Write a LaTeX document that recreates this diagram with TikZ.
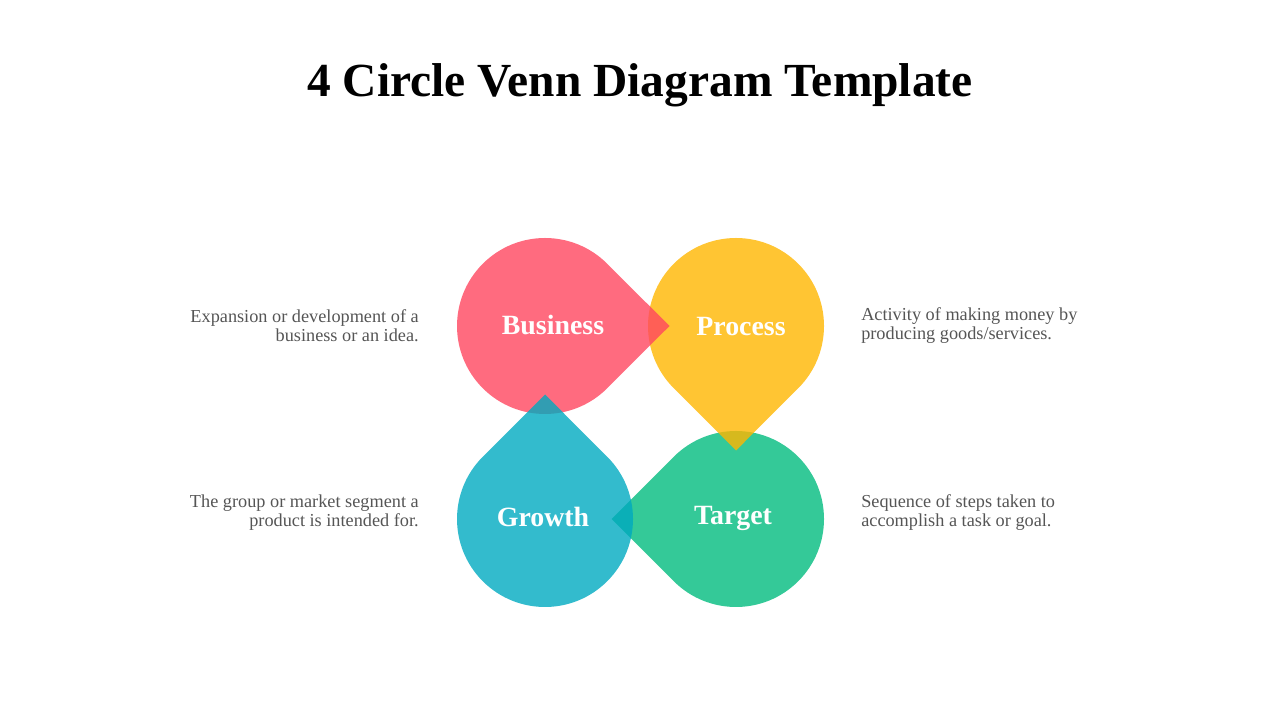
\documentclass[tikz,border=0pt]{standalone}
\usepackage{fontspec}
\setmainfont{Liberation Serif}
\usepackage{tikz}
\usetikzlibrary{calc,positioning}
\definecolor{vpink}{RGB}{255,70,95}
\definecolor{vyellow}{RGB}{255,182,0}
\definecolor{vteal}{RGB}{0,170,192}
\definecolor{vgreen}{RGB}{1,187,126}
\definecolor{desctext}{RGB}{85,85,85}
\tikzset{
  titletext/.style={font=\bfseries\fontsize{35.6}{42}\selectfont, text=black},
  drop/.style={fill=#1, fill opacity=0.8},
  lbl/.style={font=\bfseries\fontsize{20.9}{24}\selectfont, text=white},
  desc/.style={font=\fontsize{13.7}{14.3}\selectfont, text=desctext, inner sep=0pt},
}

\begin{document}
\begin{tikzpicture}[x=0.75pt, y=0.75pt]
  \useasboundingbox (0,0) rectangle (1280,720);

  % Title
  \node[titletext, anchor=base] (title) at (640,623) {4 Circle Venn Diagram Template};

  % Drops: centre x / centre y / tip direction / colour
  \foreach \cx/\cy/\dir/\col in {736/201/180/vgreen, 736/394/270/vyellow, 545/394/0/vpink, 545/201/90/vteal} {
    \fill[drop=\col] ($(\cx,\cy)+(\dir:124.5)$) -- ($(\cx,\cy)+(\dir+45:88)$)
      arc[start angle=\dir+45, delta angle=270, radius=88] -- cycle;
  }

  % Labels
  \node[lbl] (business) at (553,395) {Business};
  \node[lbl] (process) at (741,393) {Process};
  \node[lbl] (growth) at (543,203) {Growth};
  \node[lbl] (target) at (733,202) {Target};

  % Descriptions
  \node[desc, anchor=east, align=right] (businessdesc) at (419,394) {Expansion or development of a\\business or an idea.};
  \node[desc, anchor=east, align=right] (growthdesc) at (419,207) {The group or market segment a\\product is intended for.};
  \node[desc, anchor=west, align=left] (processdesc) at (861,394) {Activity of making money by\\producing goods/services.};
  \node[desc, anchor=west, align=left] (targetdesc) at (861,207) {Sequence of steps taken to\\accomplish a task or goal.};
\end{tikzpicture}
\end{document}
